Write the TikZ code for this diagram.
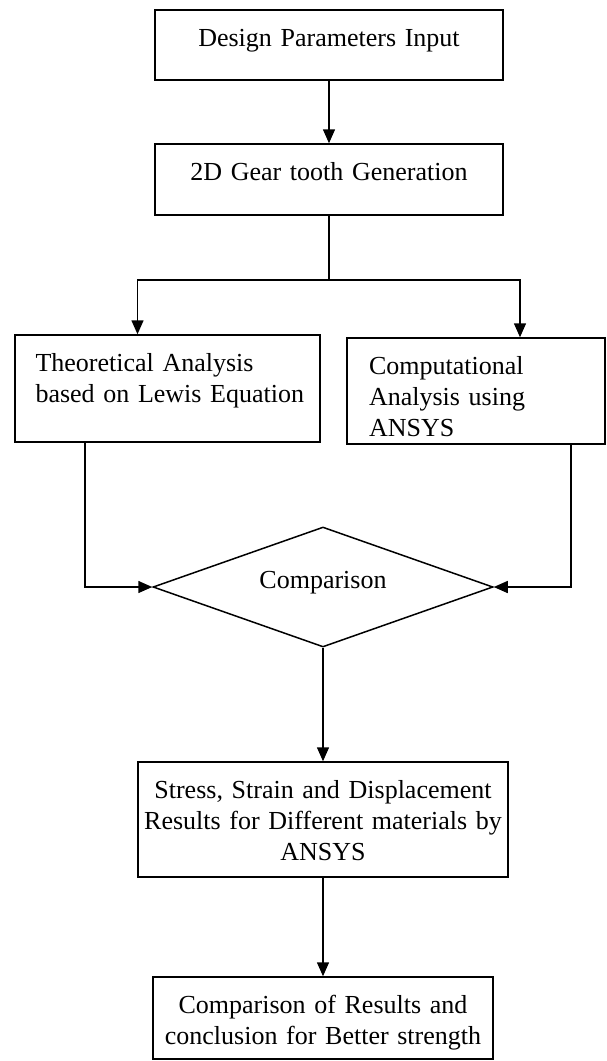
\documentclass[tikz,border=0pt]{standalone}
\usepackage{fontspec}
\setmainfont{Liberation Serif}
\usetikzlibrary{arrows.meta,shapes.geometric}

\begin{document}
\begin{tikzpicture}[x=1pt,y=-1pt]
    % --- styles ---
    \tikzset{
      stepbox/.style={draw,line width=1.5pt,inner sep=0pt,text height=36pt,
        font=\fontsize{26}{31}\selectfont},
      decbox/.style={draw,diamond,aspect=2.8,line width=1.5pt,inner sep=0pt,
        minimum width=340pt,minimum height=120pt,text height=18pt,text depth=15pt,
        font=\fontsize{26}{31}\selectfont},
      arr/.style={line width=1.5pt,-{Triangle[length=14pt,width=12pt]}}
    }
    \useasboundingbox (0,0) rectangle (606,1061);

    % input and generation
    \node[stepbox,minimum width=348pt,text width=338pt,align=center,text depth=34pt]
      (inp) at (329,45) {Design Parameters Input};
    \node[stepbox,minimum width=348pt,text width=338pt,align=center,text depth=35pt]
      (gen) at (329,179.5) {2D Gear tooth Generation};

    % the two analyses
    \node[stepbox,minimum width=305pt,text width=264pt,align=left,text depth=71pt]
      (theo) at (167.5,388.5) {Theoretical Analysis\\\mbox{based on Lewis Equation}};
    \node[stepbox,minimum width=258pt,text width=214pt,align=left,text depth=70pt]
      (comp) at (476,391) {Computational\\Analysis using\\ANSYS};

    % decision
    \node[decbox] (cmp) at (323,587) {Comparison};

    % results
    \node[stepbox,minimum width=370pt,text width=362pt,align=center,text depth=79pt]
      (res) at (323,819.5) {Stress, Strain and Displacement\\Results for Different materials by\\ANSYS};
    \node[stepbox,minimum width=340pt,text width=332pt,align=center,text depth=46pt]
      (fin) at (323,1018) {Comparison of Results and\\conclusion for Better strength};

    % connectors
    \coordinate (fork) at (329,280);
    \draw[arr] (inp) -- (gen);
    \draw[line width=1.5pt] (gen.south) -- (fork);
    \draw[arr] (fork) -| ([xshift=-30pt]theo.north);
    \draw[arr] (fork) -| ([xshift=44pt]comp.north);
    \draw[arr] ([xshift=-82.5pt]theo.south) |- (cmp.west);
    \draw[arr] ([xshift=95pt]comp.south) |- (cmp.east);
    \draw[arr] (cmp) -- (res);
    \draw[arr] (res) -- (fin);
  \end{tikzpicture}
\end{document}
